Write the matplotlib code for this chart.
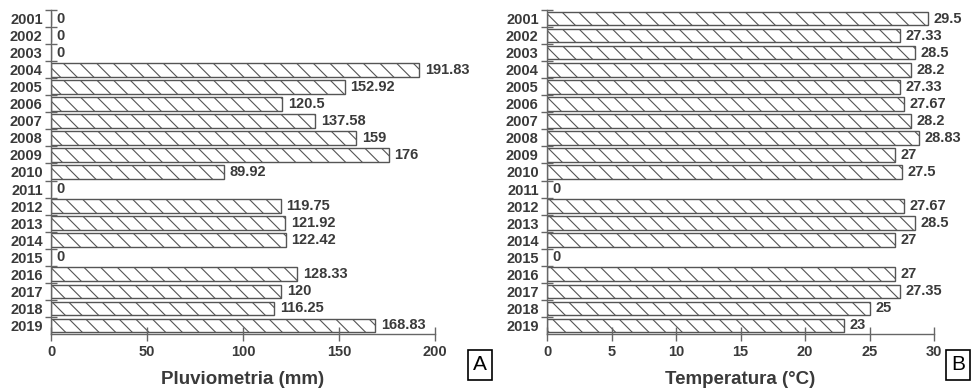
import numpy as np
import matplotlib.pyplot as plt

plt.rcParams['font.family'] = ['Liberation Sans', 'DejaVu Sans']

years = [str(y) for y in range(2001, 2020)]
pluvio = [0, 0, 0, 191.83, 152.92, 120.5, 137.58, 159, 176, 89.92, 0,
          119.75, 121.92, 122.42, 0, 128.33, 120, 116.25, 168.83]
pluvio_lbl = ['0', '0', '0', '191.83', '152.92', '120.5', '137.58', '159', '176', '89.92', '0',
              '119.75', '121.92', '122.42', '0', '128.33', '120', '116.25', '168.83']
temp = [29.5, 27.33, 28.5, 28.2, 27.33, 27.67, 28.2, 28.83, 27, 27.5, 0,
        27.67, 28.5, 27, 0, 27, 27.35, 25, 23]
temp_lbl = ['29.5', '27.33', '28.5', '28.2', '27.33', '27.67', '28.2', '28.83', '27', '27.5', '0',
            '27.67', '28.5', '27', '0', '27', '27.35', '25', '23']

plt.rcParams['hatch.color'] = '#808080'
plt.rcParams['hatch.linewidth'] = 0.8
txt = '#3a3a3a'
grey = '#666666'

fig = plt.figure(figsize=(9.75, 3.9), dpi=100)
axA = fig.add_axes([51/975, 1-334/390, (435-51)/975, 324/390])
axB = fig.add_axes([547/975, 1-334/390, (934-547)/975, 324/390])


def draw(ax, vals, lbls, xmax, step, xlabel, letter, lx):
    y = np.arange(len(years))
    ax.barh(y, vals, height=0.8, color='white', edgecolor='#555555',
            linewidth=1.0, hatch='\\\\')
    for i, (v, s) in enumerate(zip(vals, lbls)):
        ax.annotate(s, (v, i), xytext=(4, 0), textcoords='offset points',
                    va='center', ha='left', fontsize=10.5,
                    fontweight='bold', color=txt)
    ax.set_ylim(len(years) - 0.5, -0.5)
    ax.set_xlim(0, xmax)
    ax.set_yticks(y)
    ax.set_yticklabels(years, fontsize=10.5, fontweight='bold', color=txt)
    ax.set_yticks(np.arange(len(years)) - 0.5, minor=True)
    ax.tick_params(axis='y', which='major', length=0, pad=6)
    ax.tick_params(axis='y', which='minor', direction='inout', length=8,
                   color=grey, width=1)
    ax.set_xticks(np.arange(0, xmax + 1, step))
    ax.tick_params(axis='x', direction='inout', length=10, color=grey,
                   width=1, pad=3, labelsize=10.5, labelcolor=txt)
    for t in ax.get_xticklabels():
        t.set_fontweight('bold')
    for sp in ['top', 'right']:
        ax.spines[sp].set_visible(False)
    for sp in ['left', 'bottom']:
        ax.spines[sp].set_color(grey)
        ax.spines[sp].set_linewidth(1)
    pos = ax.get_position()
    fig.text((pos.x0 + pos.x1) / 2, 1-380/390, xlabel, fontsize=13.5,
             fontweight='bold', color=txt, ha='center', va='center')
    fig.text(lx, 1-365/390, letter, fontsize=15, color='black',
             ha='center', va='center',
             bbox=dict(boxstyle='square,pad=0.25', fc='white', ec='black', lw=1.2))


draw(axA, pluvio, pluvio_lbl, 200, 50, 'Pluviometria (mm)', 'A', 480/975)
draw(axB, temp, temp_lbl, 30, 5, 'Temperatura (°C)', 'B', 958/975)

fig.savefig('out.png', dpi=100)
